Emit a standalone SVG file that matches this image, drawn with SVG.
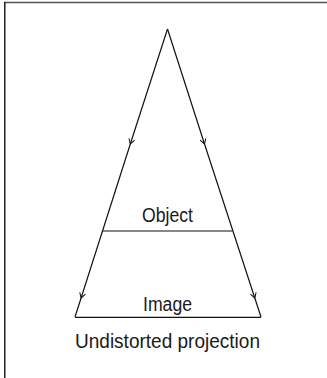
<svg xmlns="http://www.w3.org/2000/svg" width="327" height="378" viewBox="0 0 327 378">
<defs>
<style>
.ln{fill:none;stroke:#111;stroke-width:1.2}
.ar{marker-mid:url(#arr)}
.lbl{font-family:"Liberation Sans",Arial,sans-serif;font-size:20px;fill:#1a1a1a;text-anchor:middle}
</style>
<marker id="arr" viewBox="-6 -4 7 8" markerWidth="7" markerHeight="8" refX="0" refY="0" orient="auto" markerUnits="userSpaceOnUse">
<path d="M-5,-3 L0,0 L-5,3" fill="none" stroke="#111" stroke-width="1"/>
</marker>
</defs>
<rect width="327" height="378" fill="#fff"/>
<g id="frame">
<line x1="4" y1="2.5" x2="327" y2="2.5" stroke="#555" stroke-width="1.6"/>
<line x1="4.8" y1="2" x2="4.8" y2="378" stroke="#111" stroke-width="1.4"/>
</g>
<g id="connectors">
<polyline class="ln ar" points="167.5,29 130.3,144 81.1,298 75,317"/>
<polyline class="ln ar" points="167.5,29 204.5,144 254.8,298 261,317"/>
</g>
<g id="object">
<line class="ln" x1="103" y1="231" x2="232.5" y2="231"/>
<text class="lbl" x="167.5" y="222" textLength="51" lengthAdjust="spacingAndGlyphs">Object</text>
</g>
<g id="image">
<line class="ln" x1="75" y1="317.3" x2="261" y2="317.3"/>
<text class="lbl" x="167.5" y="311" textLength="49" lengthAdjust="spacingAndGlyphs">Image</text>
</g>
<g id="caption">
<text class="lbl" x="167.5" y="348" textLength="185" lengthAdjust="spacingAndGlyphs">Undistorted projection</text>
</g>
</svg>
